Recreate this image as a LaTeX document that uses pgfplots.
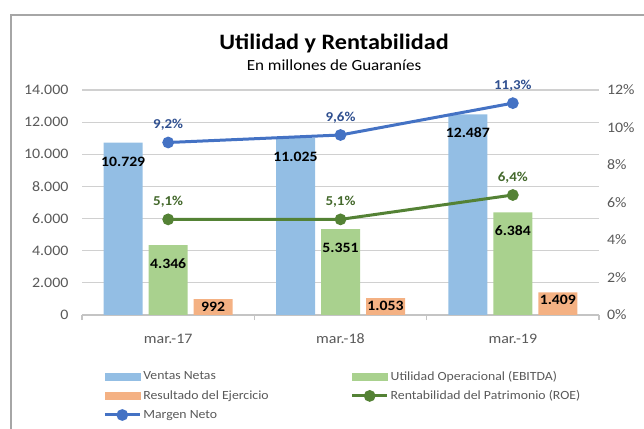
\documentclass[border=0pt]{standalone}
\usepackage{fontspec}
\setmainfont{Carlito}[FakeStretch=1.1]
\usepackage{pgfplots}
\pgfplotsset{compat=1.18}
\definecolor{ventas}{HTML}{93BEE4}
\definecolor{utilidad}{HTML}{A9D18E}
\definecolor{resultado}{HTML}{F4B183}
\definecolor{roe}{HTML}{548235}
\definecolor{roelabel}{HTML}{43682B}
\definecolor{margen}{HTML}{4472C4}
\definecolor{margenlabel}{HTML}{2F4F8F}
\definecolor{labelgray}{HTML}{595959}
\definecolor{gridgray}{HTML}{D0D0D0}
\definecolor{axisgray}{HTML}{C4C4C4}
\definecolor{framegray}{HTML}{A6A6A6}
\pgfplotsset{
  linelegend/.style={legend image code/.code={\draw[mark repeat=2,mark phase=2,##1] plot coordinates {(0pt,0pt) (17.5pt,0pt) (35pt,0pt)};}},
}
\begin{document}
\begin{tikzpicture}
\path[use as bounding box] (0pt,0pt) rectangle (644pt,428pt);
\draw[color=framegray, line width=2pt] (11pt,-5pt) -- (11pt,413pt) -- (660pt,413pt);
\node[font=\fontsize{22}{24}\selectfont\bfseries, anchor=base] at (334pt,378pt) {Utilidad y Rentabilidad};
\node[font=\fontsize{15.5}{18}\selectfont, anchor=base] at (334pt,357pt) {En millones de Guaraníes};
\begin{axis}[
  at={(82pt,113pt)}, anchor=south west,
  scale only axis, width=517pt, height=225pt,
  xmin=-0.5, xmax=2.5, ymin=0, ymax=14000,
  ytick={0,2000,...,14000},
  scaled y ticks=false,
  axis line style={draw=none},
  xtick pos=left, ytick pos=left,
  xtick={-0.5,0.5,1.5,2.5}, xticklabels={},
  extra x ticks={0,1,2}, extra x tick labels={mar.-17,mar.-18,mar.-19},
  extra x tick style={major tick length=0pt, xmajorgrids=false},
  major tick length=5pt, tick align=outside,
  xtick style={draw=axisgray, line width=1.1pt},
  ytick style={draw=none},
  tick label style={font=\fontsize{14.5}{16}\selectfont, text=labelgray},
  /pgf/number format/assume math mode=true,
  yticklabel style={/pgf/number format/1000 sep={.}, xshift=-5pt},
  xticklabel style={anchor=base, yshift=-28pt},
  ybar, bar width=39pt,
  nodes near coords, point meta=explicit symbolic,
  every node near coord/.append style={font=\fontsize{14.3}{16}\selectfont\bfseries, text=black, anchor=base},
  clip=false,
]
\pgfplotsinvokeforeach{2000,4000,6000,8000,10000,12000,14000}{
  \draw[gridgray, line width=1.2pt] (axis cs:-0.5,#1) -- (axis cs:2.5,#1);
}
\draw[axisgray, line width=1.2pt] (axis cs:-0.5,0) -- (axis cs:2.5,0);
\addplot[fill=ventas, draw=none, bar shift=-45pt, every node near coord/.append style={yshift=-23.5pt}]
  coordinates {(0,10729)[10.729] (1,11025)[11.025] (2,12487)[12.487]};
\addplot[fill=utilidad, draw=none, bar shift=0pt, every node near coord/.append style={yshift=-23pt}]
  coordinates {(0,4346)[4.346] (1,5351)[5.351] (2,6384)[6.384]};
\addplot[fill=resultado, draw=none, bar shift=45pt, every node near coord/.append style={yshift=-12.5pt}]
  coordinates {(0,992)[992] (1,1053)[1.053] (2,1409)[1.409]};
\end{axis}
\begin{axis}[
  at={(82pt,113pt)}, anchor=south west,
  scale only axis, width=517pt, height=225pt,
  xmin=-0.5, xmax=2.5, ymin=0, ymax=12,
  ytick={0,2,...,12},
  axis x line=none, axis y line*=right,
  y axis line style={draw=none}, ytick style={draw=none},
  /pgf/number format/assume math mode=true,
  yticklabel={\pgfmathprintnumber{\tick}\%},
  yticklabel style={font=\fontsize{14.5}{16}\selectfont, text=labelgray, xshift=4.5pt},
  clip=false,
  legend columns=2,
  legend cell align=left,
  legend style={at={(axis description cs:0.035,-0.23)}, anchor=north west, draw=none, fill=none,
    font=\fontsize{12.5}{14}\selectfont, text=labelgray, row sep=5pt,
    /tikz/every even column/.append style={column sep=80pt}},
]
\addlegendimage{legend image code/.code={\fill[ventas] (0pt,-3.5pt) rectangle (35pt,3.5pt);}}
\addlegendentry{Ventas Netas}
\addlegendimage{legend image code/.code={\fill[utilidad] (0pt,-3.5pt) rectangle (35pt,3.5pt);}}
\addlegendentry{Utilidad Operacional (EBITDA)}
\addlegendimage{legend image code/.code={\fill[resultado] (0pt,-3.5pt) rectangle (35pt,3.5pt);}}
\addlegendentry{Resultado del Ejercicio}
\addplot[color=roe, line width=3pt, mark=*, mark size=4.3pt, mark options={solid}, linelegend,
  nodes near coords, point meta=explicit symbolic,
  every node near coord/.append style={font=\fontsize{13.6}{16}\selectfont\bfseries, text=roelabel, anchor=base, yshift=13.5pt}]
  coordinates {(0,5.1)[5,1\%] (1,5.1)[5,1\%] (2,6.4)[6,4\%]};
\addlegendentry{Rentabilidad del Patrimonio (ROE)}
\addplot[color=margen, line width=3pt, mark=*, mark size=4.3pt, mark options={solid}, linelegend,
  nodes near coords, point meta=explicit symbolic,
  every node near coord/.append style={font=\fontsize{13.6}{16}\selectfont\bfseries, text=margenlabel, anchor=base, yshift=13.5pt}]
  coordinates {(0,9.2)[9,2\%] (1,9.6)[9,6\%] (2,11.3)[11,3\%]};
\addlegendentry{Margen Neto}
\end{axis}
\end{tikzpicture}
\end{document}
